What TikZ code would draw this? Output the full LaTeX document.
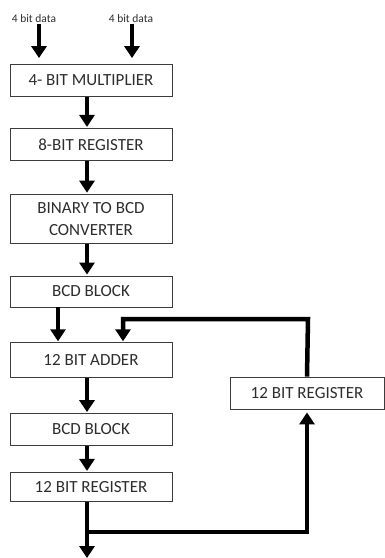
\documentclass[tikz,border=0pt]{standalone}
\usepackage{fontspec}
\setmainfont{Carlito}
\usepackage{tikz}
\usetikzlibrary{arrows.meta,positioning,calc}
\definecolor{txtgray}{RGB}{45,45,45}
\definecolor{boxgray}{RGB}{60,60,60}

\begin{document}
\begin{tikzpicture}[
  x=1pt,y=-1pt,
  blk/.style={rectangle,draw=boxgray,line width=0.8pt,fill=white,
              minimum width=162pt,minimum height=32pt,inner sep=2pt,
              font=\fontsize{17}{22}\selectfont,text=txtgray,align=center},
  lbl/.style={font=\fontsize{11.5}{13}\selectfont,text=txtgray,inner sep=1pt},
  arr/.style={-{Triangle[length=12pt,width=15pt]},line width=4.5pt,draw=black},
  node distance=32pt,
]
\useasboundingbox (0,0) rectangle (385,558);

\node[blk] (mul) at (91,80.5) {4- BIT MULTIPLIER};
\node[blk,below=31pt of mul] (reg8) {8-BIT REGISTER};
\node[blk,below=33pt of reg8,minimum height=49pt] (conv) {BINARY TO BCD\\CONVERTER};
\node[blk,below=32pt of conv,minimum height=31pt] (bcd) {BCD BLOCK};
\node[blk,below=35pt of bcd,minimum height=35pt] (add) {12 BIT ADDER};
\node[blk,below=35pt of add] (bcdb) {BCD BLOCK};
\node[blk,below=26pt of bcdb,minimum height=29pt] (reg12) {12 BIT REGISTER};
\node[blk,minimum width=154pt] (fbreg) at (307,393) {12 BIT REGISTER};

\node[lbl] (inA) at (34,19) {4 bit data};
\node[lbl] (inB) at (131,19) {4 bit data};

% inputs
\draw[arr,shorten >=6pt] ([xshift=5pt]inA.south) -- ([xshift=5pt]inA.south |- mul.north);
\draw[arr,shorten >=6pt] ([xshift=1pt]inB.south) -- ([xshift=1pt]inB.south |- mul.north);

% main chain
\draw[arr,shorten >=1pt] ([xshift=-4pt]mul.south)  -- ([xshift=-4pt]reg8.north);
\draw[arr,shorten >=1pt] ([xshift=-4pt]reg8.south) -- ([xshift=-4pt]conv.north);
\draw[arr,shorten >=1pt] ([xshift=-4pt]conv.south) -- ([xshift=-4pt]bcd.north);
\draw[arr,shorten >=1pt] ([xshift=-33pt]bcd.south) -- ([xshift=-33pt]add.north);
\draw[arr,shorten >=1pt] ([xshift=-4pt]add.south)  -- ([xshift=-4pt]bcdb.north);
\draw[arr,shorten >=1pt] ([xshift=-4pt]bcdb.south) -- ([xshift=-4pt]reg12.north);

% output and feedback loop
\coordinate (outend) at (87,558);
\coordinate (branch) at (87,532);
\coordinate (fbtop) at (308,319);
\draw[arr] ([xshift=-4pt]reg12.south) -- (outend);
\draw[arr,shorten >=3pt] (branch) -| (fbreg.south);
\draw[arr,shorten >=1pt] (fbreg.north) -- (fbtop) -| ([xshift=32pt]add.north);
\end{tikzpicture}
\end{document}
